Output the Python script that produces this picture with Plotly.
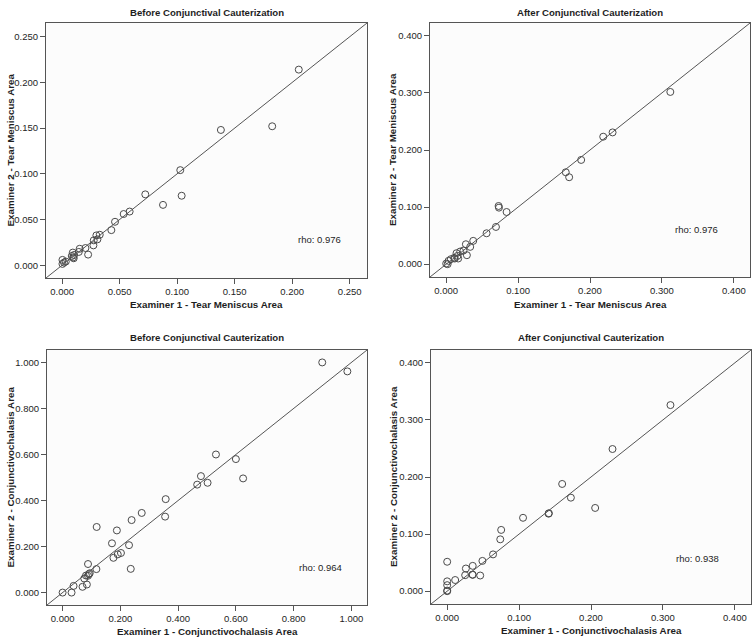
import plotly.graph_objects as go

W, H = 756, 642

# ---------------- data ----------------
# Panel A: Tear meniscus area, before cauterization
tm_before_e1 = [0.2057, 0.138, 0.1826, 0.1027, 0.1039, 0.0877, 0.0723, 0.0587, 0.0535, 0.046,
                0.0428, 0.0327, 0.0298, 0.0307, 0.0275, 0.0272, 0.0226, 0.0203, 0.0153, 0.0145,
                0.0093, 0.0104, 0.0084, 0.0101, 0.0095, 0.0003, 0.0003, 0.0017, 0.0032]
tm_before_e2 = [0.214, 0.148, 0.152, 0.104, 0.076, 0.066, 0.0775, 0.0587, 0.056, 0.0475,
                0.0384, 0.0333, 0.0326, 0.0283, 0.0272, 0.0217, 0.0116, 0.0188, 0.018, 0.0145,
                0.0138, 0.0112, 0.0101, 0.0076, 0.0085, 0.0058, 0.0014, 0.0029, 0.004]

# Panel B: Tear meniscus area, after cauterization
tm_after_e1 = [0.3117, 0.2314, 0.2184, 0.1877, 0.1663, 0.171, 0.0729, 0.0734, 0.084, 0.0692,
               0.0562, 0.0376, 0.0274, 0.0334, 0.0288, 0.0241, 0.0195, 0.0144, 0.0158, 0.0111,
               0.0065, 0.0033, 0.0, 0.002, 0.012, 0.0167]
tm_after_e2 = [0.3017, 0.2308, 0.2233, 0.1826, 0.161, 0.1523, 0.1019, 0.099, 0.0914, 0.0652,
               0.0541, 0.0408, 0.0349, 0.0303, 0.0157, 0.0239, 0.0221, 0.0192, 0.0145, 0.011,
               0.0087, 0.0058, 0.001, 0.0, 0.0099, 0.0099]

# Panel C: Conjunctivochalasis area, before cauterization
cc_before_e1 = [0.899, 0.986, 0.531, 0.600, 0.625, 0.479, 0.466, 0.502, 0.357, 0.355,
                0.274, 0.239, 0.118, 0.188, 0.171, 0.230, 0.202, 0.191, 0.176, 0.236,
                0.117, 0.088, 0.091, 0.088, 0.094, 0.081, 0.075, 0.084, 0.069, 0.038,
                0.031, 0.0]
cc_before_e2 = [1.000, 0.961, 0.600, 0.580, 0.496, 0.506, 0.469, 0.477, 0.406, 0.330,
                0.346, 0.315, 0.285, 0.270, 0.214, 0.206, 0.172, 0.166, 0.151, 0.103,
                0.102, 0.124, 0.080, 0.073, 0.084, 0.074, 0.061, 0.035, 0.025, 0.029,
                0.0, 0.0]

# Panel D: Conjunctivochalasis area, after cauterization
cc_after_e1 = [0.3105, 0.2299, 0.1599, 0.172, 0.2058, 0.141, 0.1414, 0.1055, 0.0751, 0.0738,
               0.0638, 0.049, 0.0355, 0.026, 0.0355, 0.0352, 0.025, 0.0459, 0.0111, 0.0,
               0.0, 0.0, 0.0, 0.0]
cc_after_e2 = [0.326, 0.249, 0.1878, 0.1638, 0.1458, 0.1357, 0.1365, 0.1285, 0.1073, 0.0908,
               0.0644, 0.053, 0.0443, 0.0397, 0.0286, 0.029, 0.028, 0.0274, 0.0195, 0.0515,
               0.0172, 0.0105, 0.0, 0.001]

panel_titles = ["Before Conjunctival Cauterization", "After Conjunctival Cauterization",
                "Before Conjunctival Cauterization", "After Conjunctival Cauterization"]
x_titles = ["Examiner 1 - Tear Meniscus Area", "Examiner 1 - Tear Meniscus Area",
            "Examiner 1 - Conjunctivochalasis Area", "Examiner 1 - Conjunctivochalasis Area"]
y_titles = ["Examiner 2 - Tear Meniscus Area", "Examiner 2 - Tear Meniscus Area",
            "Examiner 2 - Conjunctivochalasis Area", "Examiner 2 - Conjunctivochalasis Area"]
rho_labels = ["rho: 0.976", "rho: 0.976", "rho: 0.964", "rho: 0.938"]
rho_pos = [(0.224, 0.028), (0.348, 0.061), (0.893, 0.109), (0.348, 0.058)]

tickvals_list = [
    [0.0, 0.05, 0.10, 0.15, 0.20, 0.25],
    [0.0, 0.1, 0.2, 0.3, 0.4],
    [0.0, 0.2, 0.4, 0.6, 0.8, 1.0],
    [0.0, 0.1, 0.2, 0.3, 0.4],
]
ranges = [(-0.014, 0.265), (-0.0225, 0.4225), (-0.054, 1.054), (-0.0225, 0.4225)]

xs = [tm_before_e1, tm_after_e1, cc_before_e1, cc_after_e1]
ys = [tm_before_e2, tm_after_e2, cc_before_e2, cc_after_e2]

# ---------------- layout geometry (pixels) ----------------
boxes = [  # left, right, top, bottom
    (46, 367, 23, 278),
    (430, 750, 23, 277),
    (47, 367, 350, 605),
    (431, 751, 350, 604),
]
# (panel title y, x-title y, y-title x) in pixels
label_pos = [(12, 304, 10), (12, 304, 393), (338, 631, 10), (338, 630, 393)]

LINE = "#555555"
TXT = "#1e1e1e"
FONT = "Liberation Sans, Arial, sans-serif"

fig = go.Figure()
layout = dict(width=W, height=H, margin=dict(l=0, r=0, t=0, b=0, autoexpand=False),
              paper_bgcolor="white", plot_bgcolor="#fcfcfc", showlegend=False,
              font=dict(family=FONT, color=TXT, size=10))
shapes, annotations = [], []

for i in range(4):
    n = "" if i == 0 else str(i + 1)
    l, r, t, b = boxes[i]
    xd = [l / W, r / W]
    yd = [1 - b / H, 1 - t / H]
    r0, r1 = ranges[i]
    tv = tickvals_list[i]
    tt = ["%.3f" % v for v in tv]
    common = dict(range=[r0, r1], tickvals=tv, ticktext=tt, ticks="outside", ticklen=5,
                  tickcolor=LINE, showline=True, linecolor=LINE, linewidth=1, mirror=True,
                  showgrid=False, zeroline=False, automargin=False,
                  tickfont=dict(size=9.5, color=TXT, family=FONT))
    layout["xaxis" + n] = dict(common, domain=xd, anchor="y" + n)
    layout["yaxis" + n] = dict(common, domain=yd, anchor="x" + n)
    fig.add_trace(go.Scatter(x=xs[i], y=ys[i], mode="markers", xaxis="x" + n, yaxis="y" + n,
                             marker=dict(symbol="circle-open", size=7, color="#4a4a4a",
                                         line=dict(width=1, color="#4a4a4a"))))
    shapes.append(dict(type="line", xref="x" + n, yref="y" + n, x0=r0, y0=r0, x1=r1, y1=r1,
                       line=dict(color=LINE, width=1)))
    annotations.append(dict(text=rho_labels[i], xref="x" + n, yref="y" + n,
                            x=rho_pos[i][0], y=rho_pos[i][1], showarrow=False,
                            font=dict(size=9.5, color=TXT, family=FONT)))
    ty, xty, ytx = label_pos[i]
    cx = (xd[0] + xd[1]) / 2
    cy = (yd[0] + yd[1]) / 2
    annotations.append(dict(text="<b>" + panel_titles[i] + "</b>", xref="paper", yref="paper",
                            x=cx, y=1 - ty / H, xanchor="center", yanchor="middle",
                            showarrow=False, font=dict(size=9.6, color=TXT, family=FONT)))
    annotations.append(dict(text="<b>" + x_titles[i] + "</b>", xref="paper", yref="paper",
                            x=cx, y=1 - xty / H, xanchor="center", yanchor="middle",
                            showarrow=False, font=dict(size=9.8, color=TXT, family=FONT)))
    annotations.append(dict(text="<b>" + y_titles[i] + "</b>", xref="paper", yref="paper",
                            x=ytx / W, y=cy, xanchor="center", yanchor="middle", textangle=-90,
                            showarrow=False, font=dict(size=9.8, color=TXT, family=FONT)))

layout["shapes"] = shapes
layout["annotations"] = annotations
fig.update_layout(**layout)
fig.write_html("out.html", config={"displayModeBar": False},
               post_script="document.body.style.margin='0';document.body.style.overflow='hidden';")
